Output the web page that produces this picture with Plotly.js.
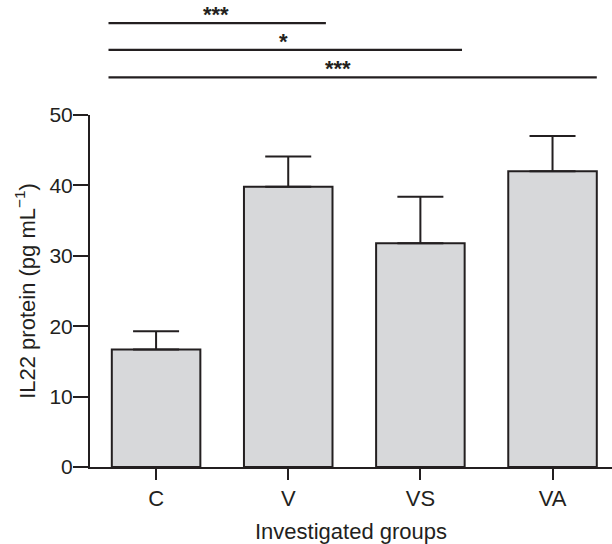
<!DOCTYPE html>
<html>
<head>
<meta charset="utf-8">
<script src="https://cdn.plot.ly/plotly-3.0.1.min.js"></script>
<style>html,body{margin:0;padding:0;background:#fff;}#chart{width:612px;height:544px;}</style>
</head>
<body>
<div id="chart"></div>
<script>
// ---- data ----
const groups = ['C', 'V', 'VS', 'VA'];
const il22Mean = [16.7, 39.8, 31.8, 42.0];
const il22ErrUp = [2.6, 4.3, 6.6, 5.0];
const yTicks = [0, 10, 20, 30, 40, 50];
const compFrom = ['C', 'C', 'C'];
const compTo = ['V', 'VS', 'VA'];
const compLabel = ['***', '*', '***'];

// ---- styling ----
const ink = '#231f20';
const font = 'Liberation Sans, Arial, Helvetica, sans-serif';
const lineY = [1.261, 1.185, 1.107];       // paper y of comparison lines
const lineEnd = [0.285, 0.315, 0.335];     // offset right of target category
const starX = [0.45, 0.964, 1.374];        // star label x (axis units)

const trace = {
  type: 'bar',
  x: groups,
  y: il22Mean,
  width: 0.67,
  marker: {color: '#d7d8da', line: {color: ink, width: 2}},
  error_y: {type: 'data', array: il22ErrUp, arrayminus: il22ErrUp.map(() => 0),
            symmetric: false, visible: true, color: ink, thickness: 2, width: 23},
  hoverinfo: 'x+y'
};

const shapes = [];
const annotations = [];
compTo.forEach((g, i) => {
  const a = groups.indexOf(compFrom[i]);
  const b = groups.indexOf(g);
  shapes.push({type: 'line', xref: 'x', yref: 'paper',
    x0: a - 0.36, x1: b + lineEnd[i], y0: lineY[i], y1: lineY[i],
    line: {color: ink, width: 2.3}});
  annotations.push({xref: 'x', yref: 'paper', x: starX[i], y: lineY[i] - 0.0175,
    text: compLabel[i], showarrow: false, xanchor: 'center', yanchor: 'bottom',
    font: {family: font, size: 22, color: ink, weight: 'bold'}});
});

const layout = {
  width: 612, height: 544,
  margin: {l: 90, r: 0, t: 115, b: 77, pad: 0},
  paper_bgcolor: '#fff', plot_bgcolor: '#fff',
  showlegend: false,
  font: {family: font, color: ink},
  xaxis: {
    type: 'category', range: [-0.5, 3.45],
    showline: true, linecolor: ink, linewidth: 2,
    ticks: 'outside', ticklen: 11, tickwidth: 2, tickcolor: ink,
    tickfont: {family: font, size: 22, color: ink},
    showgrid: false, zeroline: false,
    title: {text: 'Investigated groups', font: {family: font, size: 22, color: ink}, standoff: 14}
  },
  yaxis: {
    range: [0, 50], tickvals: yTicks,
    showline: true, linecolor: ink, linewidth: 2,
    ticks: 'outside', ticklen: 15, tickwidth: 2, tickcolor: ink,
    ticklabelstandoff: -4,
    tickfont: {family: font, size: 21, color: ink},
    showgrid: false, zeroline: false,
    title: {text: 'IL22 protein (pg mL<sup>−1</sup>)', font: {family: font, size: 22, color: ink}, standoff: 8}
  },
  shapes: shapes,
  annotations: annotations
};

Plotly.newPlot('chart', [trace], layout, {displayModeBar: false, staticPlot: true});
</script>
</body>
</html>
